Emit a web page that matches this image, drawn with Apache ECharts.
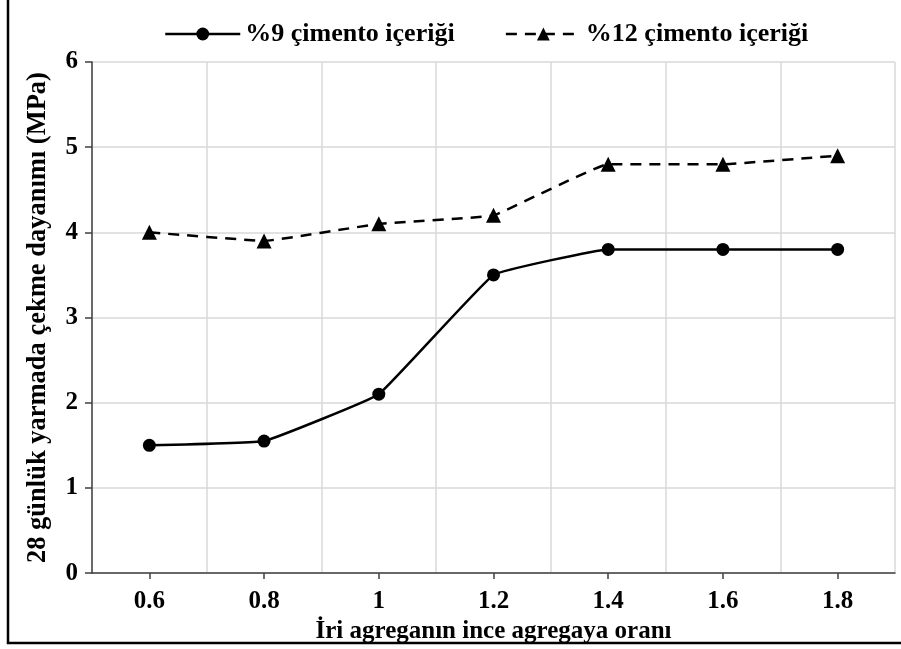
<!DOCTYPE html>
<html>
<head>
    <meta charset="utf-8">
    <title>Çekme dayanımı</title>
    <script src="https://cdn.jsdelivr.net/npm/echarts@6.0.0/dist/echarts.min.js"></script>
    <style>
        html, body { margin: 0; padding: 0; background: #fff; }
        #chart-container { width: 901px; height: 649px; }
    </style>
</head>
<body>
<div id="chart-container"></div>
<script>
    const chartDom = document.getElementById('chart-container');
    const myChart = echarts.init(chartDom);

    // Veriler
    const oranlar = ['0.6', '0.8', '1', '1.2', '1.4', '1.6', '1.8'];
    const cimento9 = [1.5, 1.55, 2.1, 3.5, 3.8, 3.8, 3.8];
    const cimento12 = [4.0, 3.9, 4.1, 4.2, 4.8, 4.8, 4.9];
    const seriAdlari = ['%9 çimento içeriği', '%12 çimento içeriği'];

    const font = '"Liberation Serif", "Times New Roman", serif';

    const option = {
        animation: false,
        textStyle: { fontFamily: font, color: '#000' },
        graphic: [{
            type: 'rect',
            shape: { x: 8, y: -10, width: 910, height: 653 },
            style: { fill: 'none', stroke: '#000', lineWidth: 2.5 },
            silent: true
        }],
        legend: {
            top: 16,
            left: 159,
            itemWidth: 75,
            itemHeight: 16,
            itemGap: 50,
            lineStyle: { width: 2.5 },
            textStyle: { fontFamily: font, fontWeight: 'bold', fontSize: 26, color: '#000' },
            data: seriAdlari
        },
        grid: {
            left: 92,
            right: 6,
            top: 62,
            bottom: 75
        },
        xAxis: {
            type: 'category',
            data: oranlar,
            boundaryGap: true,
            name: 'İri agreganın ince agregaya oranı',
            nameLocation: 'middle',
            nameGap: 41,
            nameTextStyle: { fontFamily: font, fontWeight: 'bold', fontSize: 25, color: '#000' },
            axisLine: { lineStyle: { color: '#404040', width: 1.5 } },
            axisTick: { show: true, alignWithLabel: true, length: 6, lineStyle: { color: '#404040', width: 1.5 } },
            axisLabel: { fontFamily: font, fontWeight: 'bold', fontSize: 25, color: '#000', margin: 16 },
            splitLine: { show: true, lineStyle: { color: '#d9d9d9', width: 1.5 } }
        },
        yAxis: {
            type: 'value',
            min: 0,
            max: 6,
            interval: 1,
            name: '28 günlük yarmada çekme dayanımı (MPa)',
            nameLocation: 'middle',
            nameGap: 40,
            nameTextStyle: { fontFamily: font, fontWeight: 'bold', fontSize: 26.5, color: '#000' },
            axisLine: { show: true, lineStyle: { color: '#404040', width: 1.5 } },
            axisTick: { show: true, length: 7, lineStyle: { color: '#404040', width: 1.5 } },
            axisLabel: { fontFamily: font, fontWeight: 'bold', fontSize: 25, color: '#000', margin: 14 },
            splitLine: { show: true, lineStyle: { color: '#d9d9d9', width: 1.5 } }
        },
        series: [
            {
                name: seriAdlari[0],
                type: 'line',
                data: cimento9,
                smooth: 0.08,
                symbol: 'circle',
                symbolSize: 13,
                itemStyle: { color: '#000' },
                lineStyle: { color: '#000', width: 2.5 }
            },
            {
                name: seriAdlari[1],
                type: 'line',
                data: cimento12,
                smooth: 0.08,
                symbol: 'triangle',
                symbolSize: 15,
                itemStyle: { color: '#000' },
                lineStyle: { color: '#000', width: 2.5, type: [11, 8] }
            }
        ]
    };

    myChart.setOption(option);

    window.addEventListener('resize', function() {
        myChart.resize();
    });
</script>
</body>
</html>
